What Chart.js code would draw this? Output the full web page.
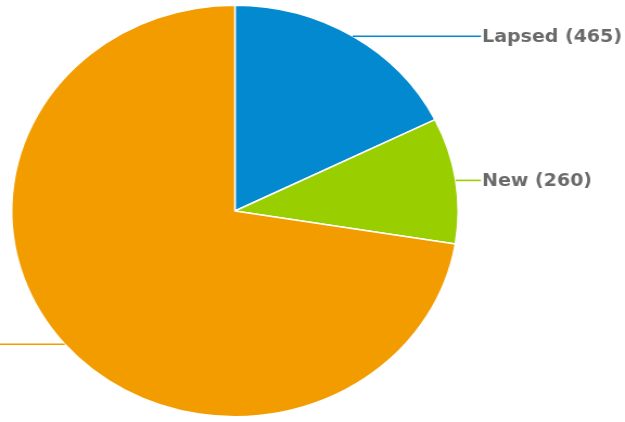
<!DOCTYPE html>
<html>
<head>
<meta charset="utf-8">
<script src="https://cdn.jsdelivr.net/npm/chart.js@4/dist/chart.umd.min.js"></script>
<style>
  html, body { margin: 0; padding: 0; background: #fff; overflow: hidden; }
  /* the reference is stretched sideways a little, so the canvas is too */
  #wrap { width: 576px; height: 422px; transform: scaleX(1.0851); transform-origin: 0 0; }
  #pie { display: block; }
</style>
</head>
<body>
<div id="wrap"><canvas id="pie" width="576" height="422"></canvas></div>
<script>
const categories = ['Lapsed', 'New', 'Active'];
const counts = [465, 260, 1905];
const colours = ['#0289cf', '#99cf00', '#f29c00'];

// leader line + "Name (count)" label out at the side of each slice
const sideLabels = {
    id: 'sideLabels',
    afterDatasetsDraw(chart) {
        const ctx = chart.ctx;
        const arcs = chart.getDatasetMeta(0).data;
        ctx.save();
        ctx.font = 'bold 17.5px "DejaVu Sans"';
        ctx.lineWidth = 1.6;
        arcs.forEach((arc, i) => {
            const mid = (arc.startAngle + arc.endAngle) / 2;
            const r = arc.outerRadius;
            const x0 = arc.x + Math.cos(mid) * r;
            const y0 = arc.y + Math.sin(mid) * r;
            const right = Math.cos(mid) >= 0;
            const x1 = right ? arc.x + r + 21 : arc.x - r - 21;
            ctx.strokeStyle = colours[i];
            ctx.beginPath();
            ctx.moveTo(x0, y0);
            ctx.lineTo(x1, y0);
            ctx.stroke();
            ctx.fillStyle = '#6a6a6a';
            ctx.textAlign = right ? 'left' : 'right';
            ctx.textBaseline = 'middle';
            ctx.fillText(`${categories[i]} (${counts[i]})`, right ? x1 + 1 : x1 - 1, y0 + 1);
        });
        ctx.restore();
    }
};

new Chart(document.getElementById('pie'), {
    type: 'pie',
    data: {
        labels: categories,
        datasets: [{
            data: counts,
            backgroundColor: colours,
            borderColor: '#ffffff',
            borderWidth: 1.5
        }]
    },
    options: {
        responsive: false,
        devicePixelRatio: 1,
        animation: false,
        events: [],
        layout: {
            padding: { top: 4, bottom: 4, left: 10, right: 153 }
        },
        plugins: {
            legend: { display: false },
            tooltip: { enabled: false }
        }
    },
    plugins: [sideLabels]
});
</script>
</body>
</html>
